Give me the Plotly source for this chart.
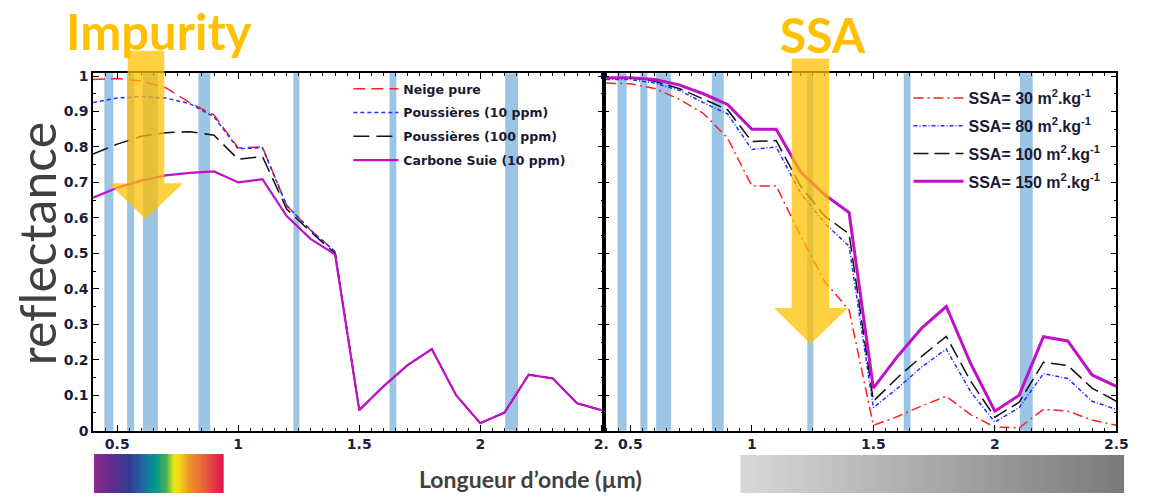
import plotly.graph_objects as go

# ---------------- data ----------------
wl = [0.4, 0.5, 0.6, 0.7, 0.8, 0.9, 1.0, 1.1, 1.2, 1.3, 1.4,
      1.5, 1.6, 1.7, 1.8, 1.9, 2.0, 2.1, 2.2, 2.3, 2.4, 2.5]

# left panel (impurities)
neige_pure = [0.99, 0.993, 0.986, 0.967, 0.925, 0.89, 0.797, 0.80, 0.635, 0.565, 0.505,
              0.058, 0.125, 0.185, 0.23, 0.10, 0.021, 0.051, 0.158, 0.147, 0.077, 0.058]
dust_10 = [0.925, 0.938, 0.942, 0.938, 0.922, 0.885, 0.795, 0.798, 0.635, 0.565, 0.505,
           0.058, 0.125, 0.185, 0.23, 0.10, 0.021, 0.051, 0.158, 0.147, 0.077, 0.058]
dust_100 = [0.78, 0.808, 0.83, 0.84, 0.843, 0.833, 0.765, 0.773, 0.625, 0.56, 0.50,
            0.058, 0.125, 0.185, 0.23, 0.10, 0.021, 0.051, 0.158, 0.147, 0.077, 0.058]
soot_10 = [0.657, 0.685, 0.705, 0.72, 0.727, 0.731, 0.70, 0.709, 0.605, 0.54, 0.497,
           0.058, 0.125, 0.185, 0.23, 0.10, 0.021, 0.051, 0.158, 0.147, 0.077, 0.058]

# right panel (SSA)
ssa_30 = [0.98, 0.978, 0.965, 0.935, 0.895, 0.825, 0.69, 0.69, 0.55, 0.42, 0.34,
          0.015, 0.04, 0.07, 0.097, 0.045, 0.01, 0.008, 0.06, 0.055, 0.03, 0.015]
ssa_80 = [0.99, 0.99, 0.98, 0.96, 0.925, 0.893, 0.793, 0.80, 0.67, 0.585, 0.52,
          0.065, 0.12, 0.18, 0.23, 0.11, 0.024, 0.065, 0.161, 0.147, 0.083, 0.06]
ssa_100 = [0.995, 0.995, 0.985, 0.965, 0.935, 0.905, 0.815, 0.818, 0.69, 0.605, 0.555,
           0.083, 0.15, 0.21, 0.266, 0.14, 0.038, 0.08, 0.193, 0.184, 0.12, 0.083]
ssa_150 = [0.995, 0.995, 0.99, 0.975, 0.95, 0.92, 0.85, 0.85, 0.73, 0.665, 0.615,
           0.12, 0.21, 0.29, 0.35, 0.19, 0.055, 0.10, 0.265, 0.253, 0.157, 0.125]

left_names = ["Neige pure", "Poussières (10 ppm)", "Poussières (100 ppm)", "Carbone Suie (10 ppm)"]
right_names = ["SSA= 30 m<sup>2</sup>.kg<sup>-1</sup>", "SSA= 80 m<sup>2</sup>.kg<sup>-1</sup>",
               "SSA= 100 m<sup>2</sup>.kg<sup>-1</sup>", "SSA= 150 m<sup>2</sup>.kg<sup>-1</sup>"]

# satellite bands (µm)
band_lo = [0.447, 0.541, 0.606, 0.835, 1.228, 1.625, 2.103]
band_hi = [0.484, 0.570, 0.668, 0.884, 1.253, 1.653, 2.156]

x_tickvals = [0.5, 1.0, 1.5, 2.0, 2.5]
x_ticktext_left = ["0.5", "1", "1.5", "2", "2."]
x_ticktext_right = ["0.5", "1", "1.5", "2", "2.5"]
y_tickvals = [0, 0.1, 0.2, 0.3, 0.4, 0.5, 0.6, 0.7, 0.8, 0.9, 1.0]
y_ticktext = ["0", "0.1", "0.2", "0.3", "0.4", "0.5", "0.6", "0.7", "0.8", "0.9", "1"]

rainbow = [[0.0, "#8c2a8c"], [0.15, "#5b2d8e"], [0.27, "#333a94"], [0.38, "#1d6aa3"],
           [0.47, "#00988f"], [0.55, "#3fae55"], [0.62, "#e9e817"], [0.66, "#f3d21a"],
           [0.74, "#ef8f2b"], [0.85, "#e7633a"], [1.0, "#e0124e"]]
grayscale = [[0.0, "#d8d8d8"], [1.0, "#7a7a7a"]]
gradient_steps = list(range(120))

# ---------------- helpers ----------------
W, H = 1160, 501
def px(x):
    return x / W
def py(y):
    return 1 - y / H

fig = go.Figure()

left_styles = [dict(color="#ff2020", dash="12px,6px", width=1.5),
               dict(color="#2030ff", dash="4px,3px", width=1.5),
               dict(color="#111111", dash="16px,7px", width=1.5),
               dict(color="#c010c8", dash="solid", width=2.2)]
for name, vals, st, g in zip(left_names, [neige_pure, dust_10, dust_100, soot_10], left_styles, "abcd"):
    fig.add_trace(go.Scatter(x=wl, y=vals, mode="lines", name=name, line=st,
                             xaxis="x", yaxis="y", legend="legend", legendgroup="L" + g,
                             hoverinfo="skip"))

right_styles = [dict(color="#ff2020", dash="10px,4px,2px,4px", width=1.5),
                dict(color="#2030ff", dash="4px,2px,1px,2px", width=1.5),
                dict(color="#111111", dash="15px,6px", width=1.5),
                dict(color="#c010c8", dash="solid", width=3)]
for name, vals, st, g in zip(right_names, [ssa_30, ssa_80, ssa_100, ssa_150], right_styles, "abcd"):
    fig.add_trace(go.Scatter(x=wl, y=vals, mode="lines", name=name, line=st,
                             xaxis="x2", yaxis="y2", legend="legend2", legendgroup="R" + g,
                             hoverinfo="skip"))

# gradient bars
fig.add_trace(go.Heatmap(z=[gradient_steps], colorscale=rainbow, showscale=False,
                         xaxis="x3", yaxis="y3", hoverinfo="skip", showlegend=False))
fig.add_trace(go.Heatmap(z=[gradient_steps], colorscale=grayscale, showscale=False,
                         xaxis="x4", yaxis="y4", hoverinfo="skip", showlegend=False))

# band shapes
shapes = []
for xr, yr in [("x", "y domain"), ("x2", "y2 domain")]:
    for lo, hi in zip(band_lo, band_hi):
        shapes.append(dict(type="rect", xref=xr, yref=yr, x0=lo, x1=hi, y0=0, y1=1,
                           fillcolor="#9cc4e4", line=dict(width=0), layer="below"))

# arrows
def arrow(xl, xr, top, base, hl, hr, tipx, tipy):
    pts = [(xl, top), (xr, top), (xr, base), (hr, base), (tipx, tipy), (hl, base), (xl, base)]
    p = "M " + " L ".join(f"{px(a):.5f},{py(b):.5f}" for a, b in pts) + " Z"
    return dict(type="path", xref="paper", yref="paper", path=p,
                fillcolor="rgba(255,192,0,0.74)", line=dict(width=0), layer="above")

shapes.append(arrow(129, 166, 47, 183, 110, 185, 147, 220))
shapes.append(arrow(800, 838, 55, 311, 782, 857, 819, 348))

tickfont = dict(family="DejaVu Sans", size=14, color="#1b1f3b", weight="bold")
common_axis = dict(showline=True, linecolor="black", linewidth=1.5, mirror="ticks",
                   ticks="inside", ticklen=6, tickwidth=1.2, tickcolor="black",
                   showgrid=False, zeroline=False, tickfont=tickfont)
minor_x = dict(tickmode="linear", tick0=0, dtick=0.05, ticks="inside", ticklen=3,
               tickwidth=1, tickcolor="black", showgrid=False)
minor_y = dict(tickmode="linear", tick0=0, dtick=0.05, ticks="inside", ticklen=3,
               tickwidth=1, tickcolor="black", showgrid=False)

yd = [py(437), py(70)]

fig.update_layout(
    width=W, height=H, autosize=False,
    margin=dict(l=0, r=0, t=0, b=0),
    paper_bgcolor="white", plot_bgcolor="white",
    xaxis=dict(domain=[px(94), px(610)], range=[0.40, 2.51], anchor="y",
               tickmode="array", tickvals=x_tickvals, ticktext=x_ticktext_left,
               minor=minor_x, **common_axis),
    yaxis=dict(domain=yd, range=[0, 1.008], anchor="x",
               tickmode="array", tickvals=y_tickvals, ticktext=y_ticktext,
               minor=minor_y, **common_axis),
    xaxis2=dict(domain=[px(610), px(1128)], range=[0.39, 2.5], anchor="y2",
                tickmode="array", tickvals=x_tickvals, ticktext=x_ticktext_right,
                minor=minor_x, **common_axis),
    yaxis2=dict(domain=yd, range=[0, 1.008], anchor="x2", showticklabels=False,
                tickmode="array", tickvals=y_tickvals,
                minor=minor_y, **common_axis),
    xaxis3=dict(domain=[px(95), px(226)], anchor="y3", visible=False,
                range=[-0.5, 119.5]),
    yaxis3=dict(domain=[0, py(461)], anchor="x3", visible=False, range=[-0.5, 0.5]),
    xaxis4=dict(domain=[px(748), px(1136)], anchor="y4", visible=False,
                range=[-0.5, 119.5]),
    yaxis4=dict(domain=[0, py(462)], anchor="x4", visible=False, range=[-0.5, 0.5]),
    legend=dict(x=px(352), y=py(71), xanchor="left", yanchor="top",
                bgcolor="rgba(0,0,0,0)", itemwidth=45, tracegroupgap=4.5,
                font=dict(family="DejaVu Sans", size=12.5, color="#1a1a33",
                          weight="bold")),
    legend2=dict(x=px(918), y=py(78), xanchor="left", yanchor="top",
                 bgcolor="rgba(0,0,0,0)", itemwidth=50, tracegroupgap=4,
                 font=dict(family="Liberation Sans, Arial", size=16, color="#1a1a33",
                           weight="bold")),
    shapes=shapes,
    annotations=[
        dict(text="<b>Impurity</b>", x=px(161), y=py(27), xref="paper", yref="paper",
             showarrow=False, xanchor="center", yanchor="middle",
             font=dict(family="Lato", size=49, color="#ffc000")),
        dict(text="<b>SSA</b>", x=px(832), y=py(30), xref="paper", yref="paper",
             showarrow=False, xanchor="center", yanchor="middle",
             font=dict(family="Lato", size=48, color="#ffc000")),
        dict(text="ref\u200clectance", x=px(37), y=py(245), xref="paper", yref="paper",
             showarrow=False, xanchor="center", yanchor="middle", textangle=-90,
             font=dict(family="Lato", size=50, color="#404040")),
        dict(text="<b>Longueur d’onde (µm)</b>", x=px(536), y=py(487), xref="paper",
             yref="paper", showarrow=False, xanchor="center", yanchor="middle",
             font=dict(family="Lato", size=23, color="#404040")),
    ],
)

fig.write_html("out.html")
